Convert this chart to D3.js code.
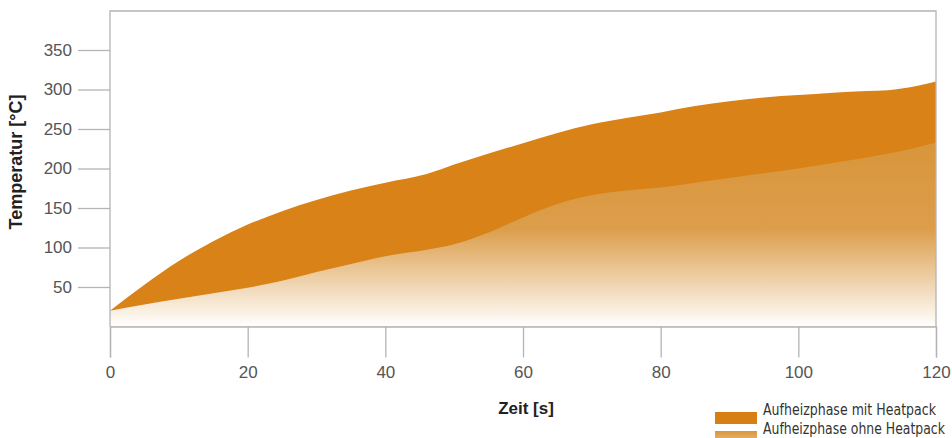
<!DOCTYPE html>
<html><head><meta charset="utf-8">
<script src="https://cdn.jsdelivr.net/npm/d3@7"></script>
<style>
html,body{margin:0;padding:0;background:#fff;}
svg{display:block;}
</style></head>
<body>
<svg id="chart" width="952" height="438"></svg>
<script>
// Data (time in s, temperature in °C)
const timeMit   = [0, 5, 10, 15, 20, 25, 30, 35, 40, 46, 50, 55, 60, 65, 70, 75, 80, 85, 90, 95, 100, 105, 110, 113, 117, 120];
const tempMit   = [20, 53, 83, 108, 129, 146, 160, 172, 182, 193, 205, 219, 232, 245, 256, 264, 271, 279, 285, 290, 293, 296, 298, 299, 304, 310];
const timeOhne  = [0, 5, 10, 15, 20, 25, 30, 35, 40, 46, 50, 55, 60, 65, 70, 75, 80, 85, 90, 95, 100, 105, 110, 115, 120];
const tempOhne  = [20, 28, 35, 42, 49, 58, 69, 79, 89, 97, 104, 119, 138, 155, 166, 172, 176, 182, 188, 194, 200, 207, 214, 222, 233];
const xTicks = [0, 20, 40, 60, 80, 100, 120];
const yTicks = [50, 100, 150, 200, 250, 300, 350];
const seriesNames = ["Aufheizphase mit Heatpack", "Aufheizphase ohne Heatpack"];
const xTitle = "Zeit [s]";
const yTitle = "Temperatur [°C]";

const svg = d3.select("#chart");
const L = 110, R = 936, T = 11, B = 326.5;
const x = d3.scaleLinear().domain([0, 120]).range([L, R]);
const y = d3.scaleLinear().domain([0, 350]).range([B, B - 350 * 0.79]);

const mit = timeMit.map((t, i) => ({t, v: tempMit[i]}));
const ohne = timeOhne.map((t, i) => ({t, v: tempOhne[i]}));

const defs = svg.append("defs");
const g1 = defs.append("linearGradient").attr("id", "gOhne")
  .attr("gradientUnits", "userSpaceOnUse").attr("x1", 0).attr("x2", 0)
  .attr("y1", 150).attr("y2", B);
g1.append("stop").attr("offset", 0).attr("stop-color", "#D9963B");
g1.append("stop").attr("offset", 0.45).attr("stop-color", "#DC9E4C");
g1.append("stop").attr("offset", 1).attr("stop-color", "#ffffff");
const g2 = defs.append("linearGradient").attr("id", "gLeg")
  .attr("x1", 0).attr("x2", 0).attr("y1", 0).attr("y2", 1);
g2.append("stop").attr("offset", 0).attr("stop-color", "#D9963B");
g2.append("stop").attr("offset", 1).attr("stop-color", "#E8BC84");

const curve = d3.curveMonotoneX;

// "mit Heatpack" area, then "ohne Heatpack" on top (opaque gradient to white)
svg.append("path")
  .attr("d", d3.area().curve(curve).x(d => x(d.t)).y0(B).y1(d => y(d.v))(mit))
  .attr("fill", "#D88217");
svg.append("path")
  .attr("d", d3.area().curve(curve).x(d => x(d.t)).y0(B).y1(d => y(d.v))(ohne))
  .attr("fill", "url(#gOhne)");

// frame
const frameColor = "#b4b4b4";
svg.append("path")
  .attr("d", `M${L},${B}V${T}H${R}V${B}`)
  .attr("fill", "none").attr("stroke", frameColor).attr("stroke-width", 1.3);

// x axis
const xAxis = d3.axisBottom(x).tickValues(xTicks).tickSize(31).tickPadding(8).tickFormat(d3.format("d"));
const gx = svg.append("g").attr("transform", `translate(0,${B})`).call(xAxis);
gx.select(".domain").attr("stroke", frameColor).attr("stroke-width", 1.3);
gx.selectAll(".tick line").attr("stroke", frameColor).attr("stroke-width", 1.3);
gx.selectAll(".tick text").attr("fill", "#555").attr("font-size", 17)
  .attr("font-family", "'Liberation Sans', Arial, sans-serif");

// y axis
const yAxis = d3.axisLeft(y).tickValues(yTicks).tickSize(32).tickPadding(6);
const gy = svg.append("g").attr("transform", `translate(${L},0)`).call(yAxis);
gy.select(".domain").remove();
gy.selectAll(".tick line").attr("stroke", frameColor).attr("stroke-width", 1.3);
gy.selectAll(".tick text").attr("fill", "#555").attr("font-size", 17)
  .attr("font-family", "'Liberation Sans', Arial, sans-serif");

// axis titles
svg.append("text").text(xTitle)
  .attr("x", 526).attr("y", 414).attr("text-anchor", "middle")
  .attr("font-family", "'Liberation Sans', Arial, sans-serif").attr("font-weight", "bold")
  .attr("font-size", 17).attr("fill", "#222");
svg.append("text").text(yTitle)
  .attr("transform", "translate(22,162) rotate(-90)").attr("text-anchor", "middle")
  .attr("font-family", "'Liberation Sans', Arial, sans-serif").attr("font-weight", "bold")
  .attr("font-size", 18).attr("fill", "#222");

// legend
const leg = svg.append("g");
const legFills = ["#D67F15", "url(#gLeg)"];
const legLens = [173, 182];
seriesNames.forEach((name, i) => {
  const yy = 412 + i * 19;
  leg.append("rect").attr("x", 715).attr("y", yy).attr("width", 42).attr("height", 12)
    .attr("fill", legFills[i]);
  const tg = leg.append("g").attr("transform", `translate(763,${415 + i * 19})`);
  const t = tg.append("text").text(name).attr("x", 0).attr("y", 0)
    .attr("font-family", "'DejaVu Sans Condensed', 'Liberation Sans', sans-serif")
    .attr("font-stretch", "condensed")
    .attr("font-size", 15).attr("fill", "#333");
  const nat = t.node().getComputedTextLength();
  const s = legLens[i] / nat;
  t.attr("transform", `scale(${s},1)`);
});
</script>
</body></html>
